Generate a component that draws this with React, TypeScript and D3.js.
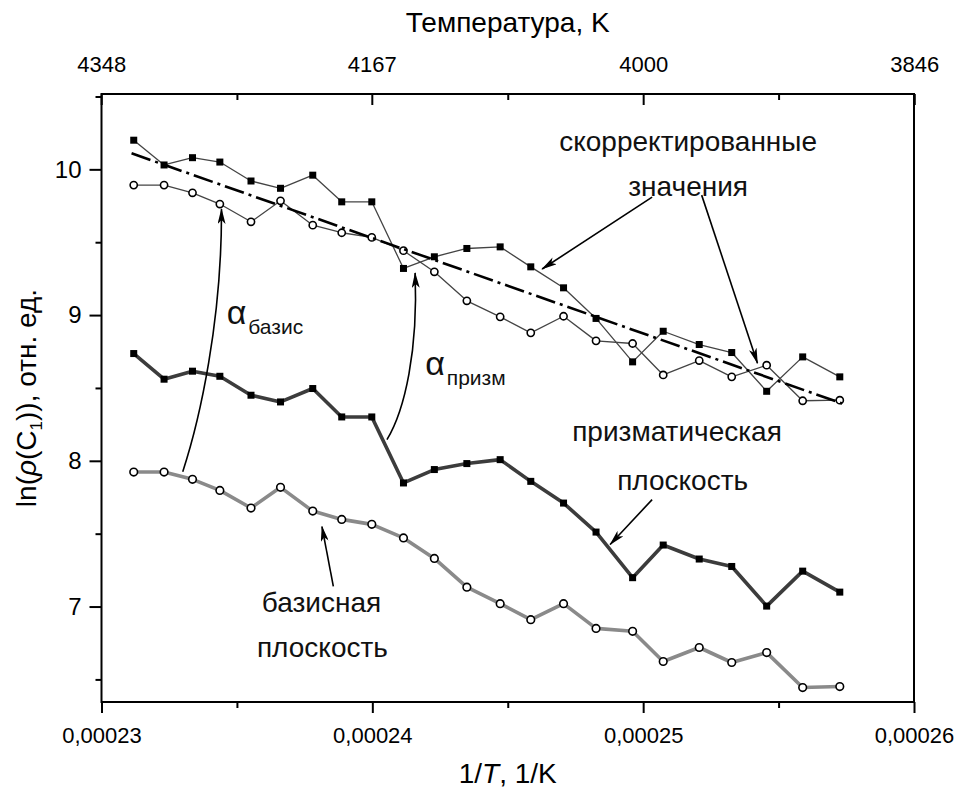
import * as d3 from "d3";
import { useEffect, useRef } from "react";

const W = 954;
const H = 789;
const margin = { top: 94, right: 40, bottom: 87, left: 101.5 };

// 1/T, 1/K for every measurement
const invT = [
  0.00023119, 0.00023231, 0.00023336, 0.00023437, 0.00023552, 0.00023661,
  0.0002378, 0.00023887, 0.00023998, 0.00024115, 0.00024229, 0.00024349,
  0.00024472, 0.00024585, 0.00024706, 0.00024826, 0.00024961, 0.00025074,
  0.00025207, 0.00025327, 0.00025456, 0.00025589, 0.00025726,
];

// скорректированные значения (квадраты)
const corrSquares = [
  10.2, 10.03, 10.08, 10.05, 9.92, 9.87, 9.96, 9.777, 9.777, 9.32, 9.4, 9.457,
  9.468, 9.331, 9.187, 8.977, 8.679, 8.889, 8.798, 8.743, 8.477, 8.713, 8.576,
];
// скорректированные значения (кружки)
const corrCircles = [
  9.892, 9.892, 9.839, 9.762, 9.64, 9.784, 9.617, 9.565, 9.533, 9.442, 9.297,
  9.098, 8.988, 8.878, 8.992, 8.823, 8.805, 8.589, 8.688, 8.576, 8.656, 8.412,
  8.416,
];
const prismPlane = [
  8.736, 8.56, 8.615, 8.58, 8.45, 8.404, 8.496, 8.301, 8.301, 7.848, 7.94,
  7.981, 8.008, 7.859, 7.71, 7.511, 7.198, 7.422, 7.326, 7.275, 7.003, 7.243,
  7.099,
];
const basalPlane = [
  7.923, 7.923, 7.873, 7.797, 7.676, 7.818, 7.655, 7.598, 7.564, 7.471, 7.33,
  7.133, 7.02, 6.91, 7.02, 6.85, 6.83, 6.623, 6.719, 6.616, 6.684, 6.444, 6.451,
];
// линейная аппроксимация
const fitX = [0.00023111, 0.00025735];
const fitY = [10.11, 8.393];

const xTicks = [0.00023, 0.00024, 0.00025, 0.00026];
const xMinorTicks = [0.000235, 0.000245, 0.000255];
const tempLabels = [4348, 4167, 4000, 3846];
const yTicks = [7, 8, 9, 10];
const yMinorTicks = [6.5, 7.5, 8.5, 9.5, 10.5];

const font = "'Liberation Sans', Arial, sans-serif";

const App = () => {
  const ref = useRef(null);

  useEffect(() => {
    const svg = d3.select(ref.current);
    svg.selectAll("*").remove();

    const x = d3
      .scaleLinear()
      .domain([0.00023, 0.00026])
      .range([margin.left, W - margin.right]);
    const y = d3
      .scaleLinear()
      .domain([6.345, 10.517])
      .range([H - margin.bottom, margin.top]);

    const fmt = (d) => d3.format(".5f")(d).replace(".", ",");
    const styleAxis = (g) => {
      g.select(".domain").remove();
      g.selectAll("line").attr("stroke", "#000").attr("stroke-width", 2);
      g.selectAll("text")
        .attr("font-size", 22)
        .attr("font-family", font)
        .attr("fill", "#000");
    };

    const defs = svg.append("defs");
    defs
      .append("marker")
      .attr("id", "arr")
      .attr("viewBox", "0 0 16 8")
      .attr("markerWidth", 16)
      .attr("markerHeight", 8)
      .attr("refX", 15)
      .attr("refY", 4)
      .attr("orient", "auto")
      .attr("markerUnits", "userSpaceOnUse")
      .append("path")
      .attr("d", "M0,0 L16,4 L0,8 L4,4 Z")
      .attr("fill", "#000");

    // axes
    const bottom = y.range()[0];
    const top = y.range()[1];
    svg
      .append("g")
      .attr("transform", `translate(0,${bottom})`)
      .call(d3.axisBottom(x).tickValues(xTicks).tickSize(11).tickPadding(14).tickFormat(fmt))
      .call(styleAxis);
    svg
      .append("g")
      .attr("transform", `translate(0,${bottom})`)
      .call(d3.axisBottom(x).tickValues(xMinorTicks).tickSize(6).tickFormat(() => ""))
      .call(styleAxis);
    svg
      .append("g")
      .attr("transform", `translate(0,${top})`)
      .call(
        d3
          .axisTop(x)
          .tickValues(tempLabels.map((t) => 1 / t))
          .tickSize(-11)
          .tickPadding(22)
          .tickFormat((d, i) => String(tempLabels[i]))
      )
      .call(styleAxis);
    svg
      .append("g")
      .attr("transform", `translate(0,${top})`)
      .call(d3.axisTop(x).tickValues(xMinorTicks).tickSize(-6).tickFormat(() => ""))
      .call(styleAxis);
    svg
      .append("g")
      .attr("transform", `translate(${margin.left},0)`)
      .call(d3.axisLeft(y).tickValues(yTicks).tickSize(12).tickPadding(8).tickFormat(d3.format("d")))
      .call(styleAxis)
      .call((g) => g.selectAll("text").attr("font-size", 24));
    svg
      .append("g")
      .attr("transform", `translate(${margin.left},0)`)
      .call(d3.axisLeft(y).tickValues(yMinorTicks).tickSize(6).tickFormat(() => ""))
      .call(styleAxis);

    svg
      .append("rect")
      .attr("x", margin.left)
      .attr("y", top)
      .attr("width", W - margin.right - margin.left)
      .attr("height", bottom - top)
      .attr("fill", "none")
      .attr("stroke", "#000")
      .attr("stroke-width", 2);

    // titles
    svg
      .append("text")
      .attr("x", (margin.left + W - margin.right) / 2)
      .attr("y", 32)
      .attr("text-anchor", "middle")
      .attr("font-family", font)
      .attr("font-size", 28)
      .text("Температура, K");

    const xt = svg
      .append("text")
      .attr("x", (margin.left + W - margin.right) / 2)
      .attr("y", 783)
      .attr("text-anchor", "middle")
      .attr("font-family", font)
      .attr("font-size", 28);
    xt.append("tspan").text("1/");
    xt.append("tspan").attr("font-style", "italic").text("T");
    xt.append("tspan").text(", 1/K");

    const yt = svg
      .append("text")
      .attr("transform", `translate(36,${(top + bottom) / 2}) rotate(-90)`)
      .attr("text-anchor", "middle")
      .attr("font-family", font)
      .attr("font-size", 28);
    yt.append("tspan").text("ln(");
    yt.append("tspan").attr("font-style", "italic").text("ρ");
    yt.append("tspan").text("(C");
    yt.append("tspan").attr("font-size", 17).attr("dy", 6).text("1");
    yt.append("tspan").attr("dy", -6).text(")), отн. ед.");

    const line = d3
      .line()
      .x((d) => x(d[0]))
      .y((d) => y(d[1]));
    const pts = (vals) => vals.map((v, i) => [invT[i], v]);

    const drawSeries = (vals, color, width) => {
      svg
        .append("path")
        .datum(pts(vals))
        .attr("d", line)
        .attr("fill", "none")
        .attr("stroke", color)
        .attr("stroke-width", width)
        .attr("stroke-linejoin", "round");
    };
    const drawSquares = (vals, s) => {
      svg
        .append("g")
        .selectAll("rect")
        .data(pts(vals))
        .enter()
        .append("rect")
        .attr("x", (d) => x(d[0]) - s / 2)
        .attr("y", (d) => y(d[1]) - s / 2)
        .attr("width", s)
        .attr("height", s)
        .attr("fill", "#000");
    };
    const drawCircles = (vals, r) => {
      svg
        .append("g")
        .selectAll("circle")
        .data(pts(vals))
        .enter()
        .append("circle")
        .attr("cx", (d) => x(d[0]))
        .attr("cy", (d) => y(d[1]))
        .attr("r", r)
        .attr("fill", "#fff")
        .attr("stroke", "#000")
        .attr("stroke-width", 1.6);
    };

    drawSeries(corrSquares, "#444", 1.3);
    drawSeries(corrCircles, "#444", 1.3);
    drawSquares(corrSquares, 7);
    drawCircles(corrCircles, 3.6);

    svg
      .append("path")
      .datum(fitX.map((v, i) => [v, fitY[i]]))
      .attr("d", line)
      .attr("fill", "none")
      .attr("stroke", "#000")
      .attr("stroke-width", 2.6)
      .attr("stroke-dasharray", "20,5,3,5");

    drawSeries(prismPlane, "#3c3c3c", 3.6);
    drawSquares(prismPlane, 7);
    drawSeries(basalPlane, "#8a8a8a", 3.6);
    drawCircles(basalPlane, 3.8);

    // arrows
    const straight = [
      [0.00025033, 9.8094, 0.00024627, 9.3162],
      [0.00025216, 9.8231, 0.00025422, 8.6702],
      [0.00025033, 7.7338, 0.00024878, 7.4255],
      [0.00023856, 7.1378, 0.00023814, 7.5488],
    ];
    straight.forEach((a) => {
      svg
        .append("line")
        .attr("x1", x(a[0]))
        .attr("y1", y(a[1]))
        .attr("x2", x(a[2]))
        .attr("y2", y(a[3]))
        .attr("stroke", "#000")
        .attr("stroke-width", 1.6)
        .attr("marker-end", "url(#arr)");
    });
    const curves = [
      [0.000233, 7.9256, 0.00023363, 8.2818, 0.00023445, 8.9668, 0.00023443, 9.7272],
      [0.00024054, 8.1448, 0.00024121, 8.3503, 0.00024169, 8.7613, 0.00024158, 9.2888],
    ];
    curves.forEach((c) => {
      const p = d3.path();
      p.moveTo(x(c[0]), y(c[1]));
      p.bezierCurveTo(x(c[2]), y(c[3]), x(c[4]), y(c[5]), x(c[6]), y(c[7]));
      svg
        .append("path")
        .attr("d", p.toString())
        .attr("fill", "none")
        .attr("stroke", "#000")
        .attr("stroke-width", 1.6)
        .attr("marker-end", "url(#arr)");
    });

    // labels
    const label = (txt, xv, yv, anchor) =>
      svg
        .append("text")
        .attr("x", x(xv))
        .attr("y", y(yv))
        .attr("text-anchor", anchor)
        .attr("font-family", font)
        .attr("font-size", 28)
        .attr("fill", "#111")
        .text(txt);
    label("скорректированные", 0.00025166, 10.1245, "middle");
    label("значения", 0.00025166, 9.8163, "middle");
    label("призматическая", 0.00024738, 8.138, "start");
    label("плоскость", 0.00024904, 7.8023, "start");
    label("базисная", 0.00023592, 6.9597, "start");
    label("плоскость", 0.00023574, 6.6515, "start");

    const alpha = (sub, xv, yv) => {
      const t = svg
        .append("text")
        .attr("x", x(xv))
        .attr("y", y(yv))
        .attr("font-family", font)
        .attr("font-size", 34)
        .attr("fill", "#111");
      t.append("tspan").text("α");
      t.append("tspan").attr("font-size", 21).attr("dy", 10).attr("dx", 2).text(sub);
    };
    alpha("базис", 0.00023462, 8.9394);
    alpha("призм", 0.00024195, 8.5906);
  }, []);

  return (
    <svg
      ref={ref}
      width={W}
      height={H}
      style={{ position: "absolute", left: 0, top: 0, background: "#fff" }}
    ></svg>
  );
};

export default App;
